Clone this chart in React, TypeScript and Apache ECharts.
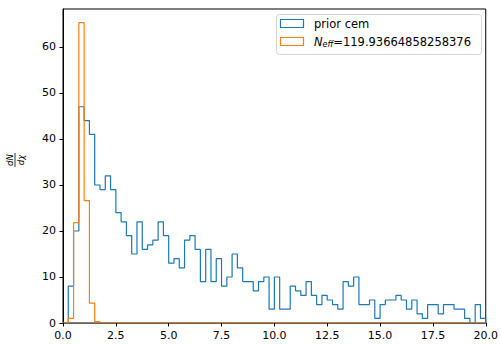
import React, { useEffect, useRef } from "react";
import * as echarts from "echarts";

// Histogram binning shared by both series: 80 bins of width 0.25 on [0, 20]
const BIN_START = 0;
const BIN_WIDTH = 0.25;
const BIN_COUNT = 80;

// Counts per bin for the prior CEM sample
const priorCounts: number[] = [
  0, 8, 20, 47, 44, 41, 30, 29, 32, 29,
  24, 22, 19, 15, 22, 16, 17, 18, 22, 19,
  13, 14, 12, 18, 19, 16, 9, 16, 9, 14,
  8, 10, 15, 12, 9, 9, 7, 9, 10, 3,
  10, 3, 3, 8, 7, 6, 9, 6, 4, 6,
  5, 4, 3, 9, 8, 10, 4, 4, 5, 1,
  4, 5, 5, 6, 5, 3, 5, 2, 1, 4,
  4, 2, 4, 4, 3, 3, 1, 0, 4, 1,
];

// Weighted counts of the posterior sample (remaining bins are empty)
const posteriorCounts: number[] = [0, 1.0, 21.8, 65.3, 26.6, 4.3, 0.3];

const seriesNames = ["prior cem", "N_eff=119.93664858258376"];
const xTickValues = [0, 2.5, 5, 7.5, 10, 12.5, 15, 17.5, 20];
const yTickValues = [0, 10, 20, 30, 40, 50, 60];

const BLUE = "#1f77b4";
const ORANGE = "#ff7f0e";
const FONT = "DejaVu Sans";

// Outline of a step histogram, as matplotlib's histtype="step" draws it
function stepOutline(counts: number[]): number[][] {
  const pts: number[][] = [[BIN_START, 0]];
  for (let i = 0; i < BIN_COUNT; i++) {
    const c = counts[i] ?? 0;
    const left = BIN_START + i * BIN_WIDTH;
    const right = left + BIN_WIDTH;
    pts.push([left, c], [right, c]);
  }
  pts.push([BIN_START + BIN_COUNT * BIN_WIDTH, 0]);
  return pts;
}

export default function App() {
  const ref = useRef<HTMLDivElement>(null);

  useEffect(() => {
    if (!ref.current) return;
    const chart = echarts.init(ref.current, undefined, { renderer: "svg" });

    const option: any = {
      animation: false,
      backgroundColor: "#ffffff",
      grid: {
        left: 63,
        right: 13,
        top: 9,
        bottom: 22,
        show: true,
        borderColor: "#000000",
        borderWidth: 1,
        backgroundColor: "transparent",
      },
      xAxis: {
        type: "value",
        min: 0,
        max: 20,
        interval: 2.5,
        z: 3,
        axisLine: { show: true, lineStyle: { color: "#6e5d52", width: 1 } },
        axisTick: {
          show: true,
          length: 3.5,
          inside: false,
          lineStyle: { color: "#000000" },
          customValues: xTickValues,
        },
        axisLabel: {
          color: "#000000",
          fontFamily: FONT,
          fontSize: 11,
          margin: 7,
          customValues: xTickValues,
          formatter: (v: number) => v.toFixed(1),
        },
        splitLine: { show: false },
      },
      yAxis: {
        type: "value",
        min: 0,
        max: 68.25,
        interval: 10,
        axisLine: { show: true, lineStyle: { color: "#000000", width: 1 } },
        axisTick: {
          show: true,
          length: 3.5,
          inside: false,
          lineStyle: { color: "#000000" },
          customValues: yTickValues,
        },
        axisLabel: {
          color: "#000000",
          fontFamily: FONT,
          fontSize: 11,
          margin: 7,
          customValues: yTickValues,
          formatter: (v: number) => String(v),
        },
        splitLine: { show: false },
      },
      series: [
        {
          name: seriesNames[0],
          type: "line",
          data: stepOutline(priorCounts),
          showSymbol: false,
          symbol: "none",
          clip: false,
          lineStyle: { color: BLUE, width: 1.2 },
          z: 2,
        },
        {
          name: seriesNames[1],
          type: "line",
          data: stepOutline(posteriorCounts),
          showSymbol: false,
          symbol: "none",
          clip: false,
          lineStyle: { color: ORANGE, width: 1.2 },
          z: 2,
        },
      ],
      graphic: [
        // y-axis label: the fraction dN / dχ, rotated
        {
          type: "group",
          x: 15,
          y: 160,
          rotation: Math.PI / 2,
          children: [
            {
              type: "text",
              x: 0,
              y: -1,
              style: {
                text: "dN",
                fontFamily: FONT,
                fontStyle: "italic",
                fontSize: 8.5,
                fill: "#000000",
                align: "center",
                verticalAlign: "bottom",
              },
            },
            {
              type: "line",
              shape: { x1: -7, y1: 0, x2: 7, y2: 0 },
              style: { stroke: "#000000", lineWidth: 0.8 },
            },
            {
              type: "text",
              x: 0,
              y: 1,
              style: {
                text: "dχ",
                fontFamily: FONT,
                fontStyle: "italic",
                fontSize: 8.5,
                fill: "#000000",
                align: "center",
                verticalAlign: "top",
              },
            },
          ],
        },
        // legend frame and entries
        {
          type: "rect",
          shape: { x: 276.5, y: 14.5, width: 205, height: 40, r: 3 },
          style: { fill: "rgba(255,255,255,0.8)", stroke: "#d3d3d3", lineWidth: 1 },
          z: 10,
        },
        {
          type: "rect",
          shape: { x: 280.5, y: 19.5, width: 23, height: 8 },
          style: { fill: "none", stroke: BLUE, lineWidth: 1.2 },
          z: 11,
        },
        {
          type: "rect",
          shape: { x: 280.5, y: 37.5, width: 23, height: 8 },
          style: { fill: "none", stroke: ORANGE, lineWidth: 1.2 },
          z: 11,
        },
        {
          type: "text",
          x: 314,
          y: 23.5,
          z: 11,
          style: {
            text: seriesNames[0],
            fontFamily: FONT,
            fontSize: 11.5,
            fill: "#000000",
            verticalAlign: "middle",
          },
        },
        {
          type: "text",
          x: 314,
          y: 41.5,
          z: 11,
          style: {
            text: "{n|N}{s|eff}{v|=119.93664858258376}",
            fontFamily: FONT,
            fontSize: 11.5,
            fill: "#000000",
            verticalAlign: "middle",
            rich: {
              n: { fontFamily: FONT, fontStyle: "italic", fontSize: 11.5, lineHeight: 14, verticalAlign: "middle" },
              s: { fontFamily: FONT, fontStyle: "italic", fontSize: 8, lineHeight: 14, verticalAlign: "bottom", padding: [4, 0, 0, 0] },
              v: { fontFamily: FONT, fontSize: 11.5, lineHeight: 14, verticalAlign: "middle" },
            },
          },
        },
      ],
    };

    chart.setOption(option);
    return () => chart.dispose();
  }, []);

  return (
    <div
      ref={ref}
      style={{ position: "fixed", left: 0, top: 0, width: 501, height: 345 }}
    />
  );
}
